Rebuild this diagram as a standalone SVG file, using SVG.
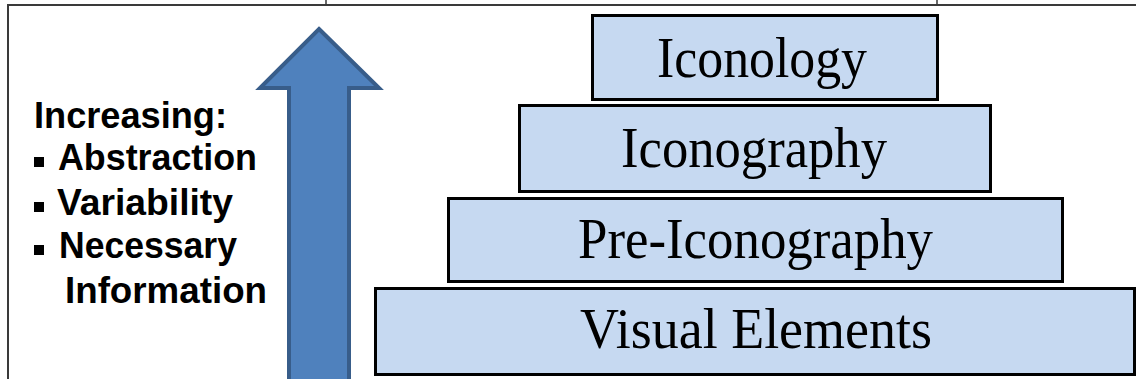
<svg xmlns="http://www.w3.org/2000/svg" width="1136" height="379" viewBox="0 0 1136 379">
  <style>
    .frame { stroke: #3a3a3a; stroke-width: 2; fill: none; }
    .tier rect { fill: #C6D9F1; stroke: #000; stroke-width: 3; }
    .tier text { font-family: "Liberation Serif", "Times New Roman", serif; font-size: 56px; fill: #000; text-anchor: middle; }
    .legend text { font-family: "Liberation Sans", Arial, sans-serif; font-weight: bold; font-size: 36px; fill: #000; }
    .legend rect { fill: #000; }
  </style>

  <rect width="1136" height="379" fill="#fff"/>

  <!-- page frame -->
  <g id="frame">
    <path class="frame" d="M8,379 V5 H1136"/>
    <path d="M326,0 V5 M937,0 V5" stroke="#3a3a3a" stroke-width="1.5"/>
  </g>

  <!-- upward arrow -->
  <g id="connectors">
    <path id="arrow-up" d="M319,29 L379,88 L349,88 L349,382 L289,382 L289,88 L260,88 Z" fill="#4F81BD" stroke="#385D8A" stroke-width="4" stroke-linejoin="miter"/>
  </g>

  <!-- legend -->
  <g id="legend" class="legend">
    <text x="34" y="128" textLength="193" lengthAdjust="spacingAndGlyphs">Increasing:</text>
    <rect x="34" y="157" width="10" height="10"/>
    <text x="58" y="170" textLength="199" lengthAdjust="spacingAndGlyphs">Abstraction</text>
    <rect x="34" y="202" width="10" height="10"/>
    <text x="57" y="215" textLength="176" lengthAdjust="spacingAndGlyphs">Variability</text>
    <rect x="34" y="245" width="10" height="10"/>
    <text x="59" y="258" textLength="178" lengthAdjust="spacingAndGlyphs">Necessary</text>
    <text x="65" y="303" textLength="202" lengthAdjust="spacingAndGlyphs">Information</text>
  </g>

  <!-- pyramid tiers -->
  <g id="tier-iconology" class="tier">
    <rect x="592.5" y="15.5" width="345" height="84"/>
    <text x="762" y="77" textLength="210" lengthAdjust="spacingAndGlyphs">Iconology</text>
  </g>
  <g id="tier-iconography" class="tier">
    <rect x="519.5" y="105.5" width="471" height="86"/>
    <text x="754" y="167" textLength="266" lengthAdjust="spacingAndGlyphs">Iconography</text>
  </g>
  <g id="tier-pre-iconography" class="tier">
    <rect x="448.5" y="198.5" width="614" height="83"/>
    <text x="755.5" y="258" textLength="355" lengthAdjust="spacingAndGlyphs">Pre-Iconography</text>
  </g>
  <g id="tier-visual-elements" class="tier">
    <rect x="375.5" y="288.5" width="759" height="86"/>
    <text x="756" y="348" textLength="352" lengthAdjust="spacingAndGlyphs">Visual Elements</text>
  </g>
</svg>
